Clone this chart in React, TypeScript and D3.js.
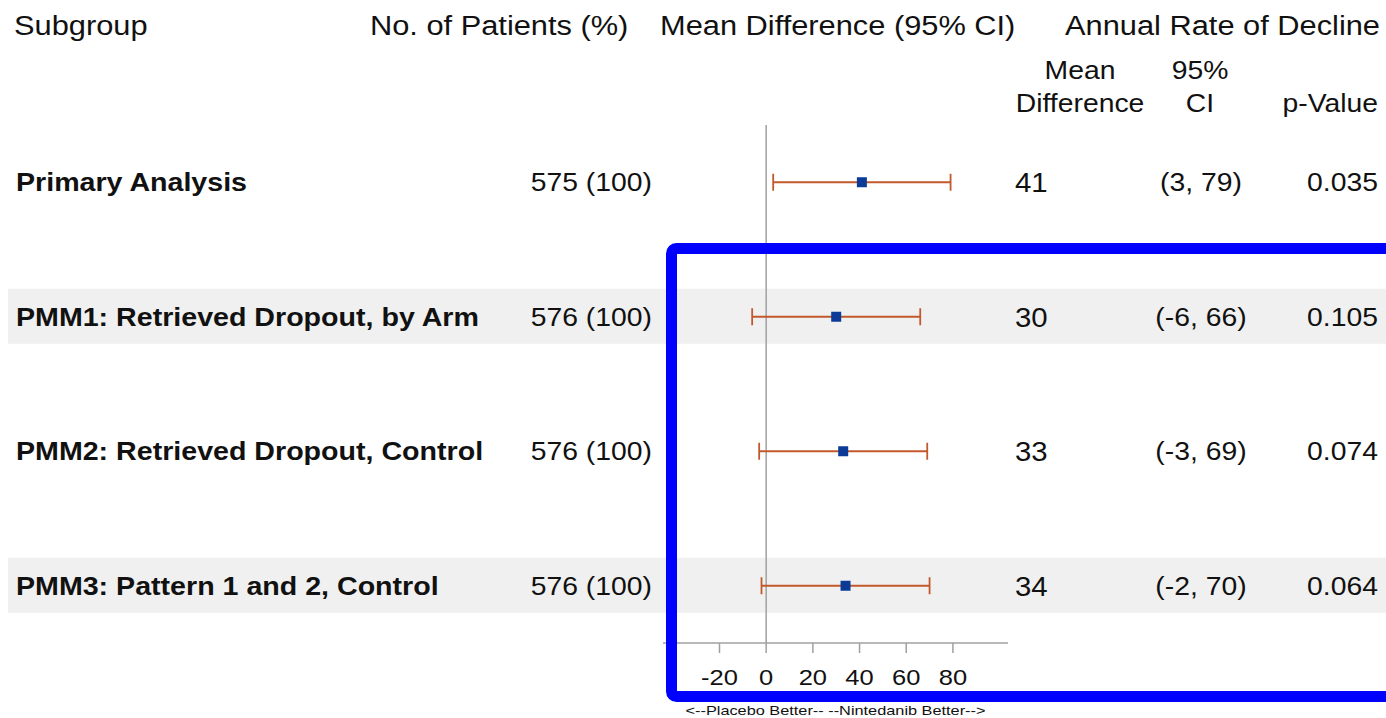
import React from "react";
import * as d3 from "d3";

const subgroups = [
  "Primary Analysis",
  "PMM1: Retrieved Dropout, by Arm",
  "PMM2: Retrieved Dropout, Control",
  "PMM3: Pattern 1 and 2, Control",
];
const patients = ["575 (100)", "576 (100)", "576 (100)", "576 (100)"];
const meanDiff = [41, 30, 33, 34];
const ciLow = [3, -6, -3, -2];
const ciHigh = [79, 66, 69, 70];
const pValues = ["0.035", "0.105", "0.074", "0.064"];
const shaded = [false, true, false, true];
const axisTicks = [-20, 0, 20, 40, 60, 80];

const FONT = "'Liberation Sans', Arial, Helvetica, sans-serif";

function T({ x, y, text, size, k = 1.09, anchor = "start", weight = "normal" }: any) {
  return (
    <text
      transform={`translate(${x},${y}) scale(${k},1)`}
      fontSize={size}
      textAnchor={anchor}
      dominantBaseline="central"
      fontWeight={weight}
      fontFamily={FONT}
      fill="#111"
    >
      {text}
    </text>
  );
}

export default function App() {
  const W = 1386;
  const H = 718;
  const x = d3.scaleLinear().domain([-44.2, 103.6]).range([663, 1008]);
  const y = d3.scaleBand<number>().domain(d3.range(subgroups.length)).range([115, 653]);
  const cy = (i: number) => (y(i) as number) + y.bandwidth() / 2;
  const axisY = 643;
  const errColor = "#c2582b";
  const markColor = "#0b3b97";
  const HS = 28;
  const BS = 26;

  return (
    <svg
      width={W}
      height={H}
      style={{ position: "absolute", left: 0, top: 0, display: "block", background: "#fff" }}
    >
      <rect x={0} y={0} width={W} height={H} fill="#fff" />
      {subgroups.map((_, i) =>
        shaded[i] ? (
          <rect key={"b" + i} x={8} y={cy(i) - 28} width={W - 8} height={55} fill="#f0f0f0" />
        ) : null
      )}

      {/* headers */}
      <T x={14} y={25} text="Subgroup" size={HS} k={1.1} />
      <T x={370} y={25} text="No. of Patients (%)" size={HS} k={1.1} />
      <T x={660} y={25} text="Mean Difference (95% CI)" size={HS} k={1.1} />
      <T x={1380} y={25} text="Annual Rate of Decline" size={HS} k={1.1} anchor="end" />
      <T x={1080} y={70} text="Mean" size={BS} anchor="middle" />
      <T x={1080} y={103} text="Difference" size={BS} anchor="middle" />
      <T x={1200} y={70} text="95%" size={BS} anchor="middle" />
      <T x={1200} y={103} text="CI" size={BS} anchor="middle" />
      <T x={1378} y={103} text="p-Value" size={BS} anchor="end" />

      {/* reference line */}
      <line x1={x(0)} x2={x(0)} y1={125} y2={axisY} stroke="#a0a0a0" strokeWidth={1.5} />

      {/* rows */}
      {subgroups.map((s, i) => (
        <g key={"r" + i}>
          <T x={16} y={cy(i)} text={s} size={BS} k={1.1} weight="bold" />
          <T x={652} y={cy(i)} text={patients[i]} size={BS} anchor="end" />
          <T x={1015} y={cy(i)} text={String(meanDiff[i])} size={28} k={1.05} />
          <T x={1201} y={cy(i)} text={`(${ciLow[i]}, ${ciHigh[i]})`} size={BS} anchor="middle" />
          <T x={1378} y={cy(i)} text={pValues[i]} size={BS} anchor="end" />
          <line x1={x(ciLow[i])} x2={x(ciHigh[i])} y1={cy(i)} y2={cy(i)} stroke={errColor} strokeWidth={1.8} />
          <line x1={x(ciLow[i])} x2={x(ciLow[i])} y1={cy(i) - 8.5} y2={cy(i) + 8.5} stroke={errColor} strokeWidth={1.8} />
          <line x1={x(ciHigh[i])} x2={x(ciHigh[i])} y1={cy(i) - 8.5} y2={cy(i) + 8.5} stroke={errColor} strokeWidth={1.8} />
          <rect x={x(meanDiff[i]) - 5} y={cy(i) - 5} width={10} height={10} fill={markColor} />
        </g>
      ))}

      {/* axis */}
      <line x1={663} x2={1008} y1={axisY} y2={axisY} stroke="#a0a0a0" strokeWidth={1.5} />
      {axisTicks.map((t) => (
        <g key={"t" + t}>
          <line x1={x(t)} x2={x(t)} y1={axisY} y2={axisY + 10} stroke="#a0a0a0" strokeWidth={1.5} />
          <T x={x(t)} y={677} text={String(t)} size={22} k={1.16} anchor="middle" />
        </g>
      ))}
      <T x={(663 + 1008) / 2} y={711} text="<--Placebo Better-- --Nintedanib Better-->" size={12} k={1.36} anchor="middle" />

      {/* highlight box */}
      <rect x={671.5} y={248.5} width={W - 671.5 + 20} height={448} fill="none" stroke="#0000ff" strokeWidth={11} rx={5} />
    </svg>
  );
}
